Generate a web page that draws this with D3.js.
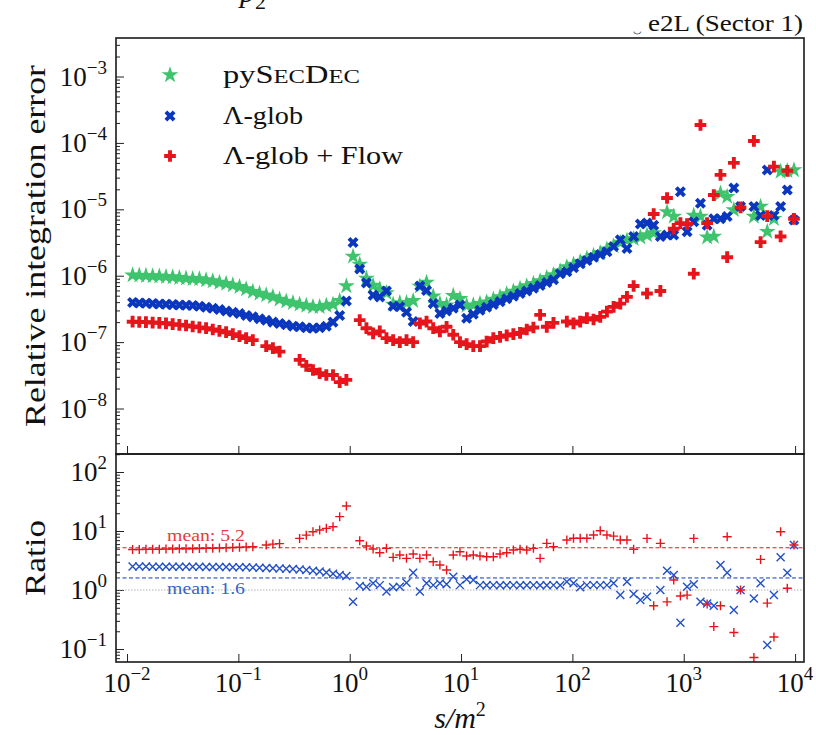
<!DOCTYPE html>
<html>
<head>
<meta charset="utf-8">
<script src="https://cdn.jsdelivr.net/npm/d3@7"></script>
<style>
  body { margin: 0; background: #fff; }
  svg { display: block; }
  text { font-family: "Liberation Serif", "DejaVu Serif", serif; fill: #111; }
</style>
</head>
<body>
<svg id="chart" width="816" height="735"></svg>
<script>
// log10(s/m^2) of every sampled kinematic point
const sExponent = [
  -1.95,-1.89,-1.83,-1.77,-1.71,-1.65,-1.59,-1.53,-1.47,-1.41,
  -1.35,-1.29,-1.23,-1.17,-1.11,-1.05,-0.99,-0.93,-0.87,-0.81,
  -0.75,-0.69,-0.63,-0.57,-0.51,-0.45,-0.39,-0.33,-0.27,-0.21,
  -0.15,-0.09,-0.03,0.03,0.09,0.15,0.21,0.27,0.33,0.39,
  0.45,0.51,0.57,0.63,0.69,0.75,0.81,0.87,0.93,0.99,
  1.05,1.11,1.17,1.23,1.29,1.35,1.41,1.47,1.53,1.59,
  1.65,1.71,1.77,1.83,1.89,1.95,2.01,2.07,2.13,2.19,
  2.25,2.31,2.37,2.43,2.49,2.55,2.61,2.67,2.73,2.79,
  2.85,2.91,2.97,3.03,3.09,3.15,3.21,3.27,3.33,3.39,
  3.45,3.51,3.57,3.63,3.69,3.75,3.81,3.87,3.93,3.99
];

// relative integration errors
const errPySecDec = [
  1.02e-6,1.01e-6,1.0e-6,9.9e-7,9.8e-7,9.65e-7,9.55e-7,9.3e-7,9.1e-7,9.0e-7,
  8.9e-7,8.6e-7,8.3e-7,7.9e-7,7.6e-7,7.2e-7,6.8e-7,6.3e-7,5.75e-7,5.4e-7,
  5.1e-7,4.8e-7,4.4e-7,4.1e-7,3.9e-7,3.7e-7,3.55e-7,3.4e-7,3.4e-7,3.55e-7,
  3.7e-7,4.2e-7,7.0e-7,1.95e-6,1.48e-6,9.1e-7,7.1e-7,6.3e-7,5.5e-7,3.7e-7,
  3.9e-7,3.9e-7,4.2e-7,6.9e-7,7.9e-7,4.9e-7,3.8e-7,3.6e-7,5.0e-7,4.5e-7,
  3.55e-7,3.6e-7,3.8e-7,4.0e-7,4.4e-7,4.8e-7,5.3e-7,5.8e-7,6.4e-7,7.0e-7,
  7.6e-7,8.3e-7,9.3e-7,1.03e-6,1.17e-6,1.35e-6,1.48e-6,1.62e-6,1.82e-6,2.0e-6,
  2.19e-6,2.5e-6,2.8e-6,3.16e-6,3.4e-6,3.6e-6,3.8e-6,4.1e-6,4.4e-6,null,
  9.1e-6,7.8e-6,null,null,8.1e-6,7.8e-6,3.8e-6,3.9e-6,1.74e-5,1.55e-5,
  9.8e-6,null,null,7.8e-6,1.1e-5,4.6e-6,7.2e-6,3.7e-5,3.8e-5,3.9e-5
];
const errGlob = [
  3.94e-7,3.89e-7,3.85e-7,3.8e-7,3.76e-7,3.72e-7,3.67e-7,3.63e-7,3.59e-7,3.55e-7,
  3.47e-7,3.35e-7,3.24e-7,3.09e-7,2.95e-7,2.82e-7,2.69e-7,2.51e-7,2.4e-7,2.24e-7,
  2.14e-7,2.0e-7,1.91e-7,1.82e-7,1.74e-7,1.70e-7,1.64e-7,1.62e-7,1.64e-7,1.74e-7,
  2.0e-7,2.51e-7,4.17e-7,3.16e-6,1.26e-6,7.8e-7,5.1e-7,4.8e-7,5.9e-7,3.47e-7,
  3.4e-7,2.82e-7,2.04e-7,7.0e-7,6.0e-7,3.8e-7,2.7e-7,2.95e-7,3.24e-7,3.63e-7,
  2.29e-7,2.63e-7,3.02e-7,3.35e-7,3.7e-7,4.07e-7,4.5e-7,4.9e-7,5.4e-7,5.9e-7,
  6.5e-7,7.1e-7,7.9e-7,8.7e-7,1.07e-6,1.15e-6,1.32e-6,1.51e-6,1.7e-6,1.9e-6,
  2.09e-6,2.29e-6,2.75e-6,3.47e-6,2.57e-6,3.9e-6,6.0e-6,6.2e-6,5.75e-6,3.9e-6,
  4.1e-6,4.1e-6,1.84e-5,4.6e-6,6.5e-6,1.23e-5,5.75e-6,7.2e-6,7.2e-6,7.8e-6,
  2.09e-5,1.1e-5,null,1.1e-5,8.1e-6,3.9e-5,8.1e-6,1.1e-5,1.95e-5,6.9e-6
];
const errGlobFlow = [
  2.03e-7,2.01e-7,2.0e-7,1.97e-7,1.95e-7,1.92e-7,1.86e-7,1.82e-7,1.78e-7,1.72e-7,
  1.67e-7,1.62e-7,1.55e-7,1.48e-7,1.41e-7,1.32e-7,1.23e-7,1.15e-7,1.07e-7,null,
  8.7e-8,8.1e-8,7.2e-8,null,null,5.4e-8,4.4e-8,3.8e-8,3.4e-8,3.2e-8,
  3.2e-8,2.5e-8,2.7e-8,null,2.14e-7,1.62e-7,1.35e-7,1.45e-7,1.15e-7,1.07e-7,
  1.0e-7,1.07e-7,1.0e-7,1.91e-7,2.04e-7,1.62e-7,1.45e-7,1.7e-7,1.29e-7,1.0e-7,
  9.3e-8,8.7e-8,8.7e-8,1.02e-7,1.15e-7,1.2e-7,1.26e-7,1.32e-7,1.38e-7,1.55e-7,
  1.66e-7,2.57e-7,1.7e-7,1.95e-7,null,2.04e-7,1.91e-7,2.04e-7,2.29e-7,2.19e-7,
  2.4e-7,2.88e-7,3.4e-7,3.8e-7,4.8e-7,7.0e-7,null,5.4e-7,8.5e-6,5.9e-7,
  1.48e-5,5.1e-6,6.2e-6,6.0e-6,1.07e-6,1.86e-4,6.2e-6,1.64e-5,3.3e-5,1.9e-6,
  5.0e-5,1.07e-5,null,1.07e-4,3.2e-6,7.9e-6,4.4e-5,3.9e-6,3.8e-5,7.2e-6
];

// error ratios pySecDec / method
const ratioGlob = [
  2.5,2.5,2.5,2.49,2.49,2.49,2.48,2.48,2.48,2.47,
  2.47,2.46,2.46,2.45,2.45,2.44,2.43,2.42,2.4,2.38,
  2.36,2.34,2.32,2.3,2.26,2.22,2.18,2.12,2.05,1.98,
  1.88,1.8,1.73,0.63,1.17,1.14,1.3,1.21,0.94,1.11,
  1.14,1.33,1.96,0.94,1.3,1.21,1.3,1.25,1.68,1.21,
  1.52,1.48,1.21,1.2,1.21,1.2,1.2,1.21,1.2,1.2,
  1.21,1.2,1.2,1.21,1.2,1.38,1.3,1.11,1.21,1.21,
  1.21,1.21,1.3,0.82,1.38,0.855,0.68,0.77,null,1.0,
  2.12,1.8,0.28,1.14,1.25,0.63,0.59,0.54,2.65,1.96,
  0.46,1.0,null,0.72,1.3,0.117,0.82,3.58,1.96,5.8
];
const ratioGlobFlow = [
  4.85,4.85,4.9,4.9,4.9,4.95,4.95,5.0,5.0,5.0,
  5.05,5.1,5.1,5.15,5.2,5.25,5.3,5.35,5.4,null,
  5.8,6.0,6.1,null,null,7.5,8.5,9.7,10.4,11.1,
  11.8,17.5,26.5,null,6.85,5.57,4.95,4.29,5.08,3.58,
  3.92,3.44,4.07,3.44,3.92,3.02,2.65,2.18,3.92,4.46,
  3.77,3.92,3.77,3.67,3.67,4.07,4.29,4.76,4.9,4.76,
  5.08,3.44,6.18,5.42,null,7.04,7.52,7.52,7.52,8.55,
  10.1,8.55,8.2,7.04,7.04,4.9,null,7.5,0.54,6.18,
  0.63,1.48,0.79,0.82,7.5,null,0.58,0.24,0.54,8.0,
  0.19,1.0,null,0.072,3.3,0.6,0.16,9.7,1.07,5.8
];
const meanGlob = 1.6;
const meanGlobFlow = 5.2;

const xTickExponents = [-2, -1, 0, 1, 2, 3, 4];
const errTickExponents = [-8, -7, -6, -5, -4, -3];
const ratioTickExponents = [-1, 0, 1, 2];

const legendLabels = ["pySecDec", "Λ-glob", "Λ-glob + Flow"];

const cGreen = "#3ec46d", cBlue = "#0b37bf", cRed = "#e6151c";
const cBlueLight = "#2350c8";

const svg = d3.select("#chart");
const L = 116, R = 804, T1 = 38, B1 = 454, T2 = 454, B2 = 662;

const x = d3.scaleLog().domain([Math.pow(10, -2.099), Math.pow(10, 4.08)]).range([L, R]);
const yErr = d3.scaleLog().domain([Math.pow(10, -8.685), Math.pow(10, -2.42)]).range([B1, T1]);
const yRat = d3.scaleLog().domain([Math.pow(10, -1.22), Math.pow(10, 2.305)]).range([B2, T2]);

const sVals = sExponent.map(e => Math.pow(10, e));

const defs = svg.append("defs");
defs.append("clipPath").attr("id", "clipTop").append("rect")
  .attr("x", L).attr("y", T1).attr("width", R - L).attr("height", B1 - T1);
defs.append("clipPath").attr("id", "clipBot").append("rect")
  .attr("x", L).attr("y", T2).attr("width", R - L).attr("height", B2 - T2);

function minorValues(scale) {
  const [a, b] = scale.domain();
  const out = [];
  for (let d = Math.floor(Math.log10(a)); d <= Math.ceil(Math.log10(b)); d++) {
    for (let k = 2; k <= 9; k++) {
      const v = k * Math.pow(10, d);
      if (v >= a && v <= b) out.push(v);
    }
  }
  return out;
}

function powLabel(t, e) {
  t.append("tspan").text("10");
  t.append("tspan").attr("dy", -12).style("font-size", "19px").text(e < 0 ? "−" + (-e) : String(e));
}

function drawYAxis(scale, exps) {
  const g = svg.append("g");
  g.append("g").call(d3.axisLeft(scale).tickValues(minorValues(scale)).tickSize(-4).tickFormat(""))
    .attr("transform", `translate(${L},0)`);
  g.append("g").call(d3.axisLeft(scale).tickValues(exps.map(e => Math.pow(10, e))).tickSize(-8).tickFormat(""))
    .attr("transform", `translate(${L},0)`);
  g.selectAll(".domain").remove();
  g.selectAll(".tick line").attr("stroke", "#222").attr("stroke-width", 1);
  exps.forEach(e => {
    const t = g.append("text").attr("x", 107).attr("y", scale(Math.pow(10, e)) + 9)
      .attr("text-anchor", "end").style("font-size", "27px");
    powLabel(t, e);
  });
}

function drawXTicks(yBase) {
  const g = svg.append("g").attr("transform", `translate(0,${yBase})`)
    .call(d3.axisBottom(x).tickValues(xTickExponents.map(e => Math.pow(10, e))).tickSize(-8).tickFormat(""));
  g.select(".domain").remove();
  g.selectAll(".tick line").attr("stroke", "#222").attr("stroke-width", 1);
}

// ticks on both panels
drawYAxis(yErr, errTickExponents);
drawYAxis(yRat, ratioTickExponents);
drawXTicks(B1);
drawXTicks(B2);

// x tick labels under the ratio panel
xTickExponents.forEach(e => {
  const t = svg.append("text").attr("x", x(Math.pow(10, e))).attr("y", 692)
    .attr("text-anchor", "middle").style("font-size", "27px");
  powLabel(t, e);
});

// marker shapes
const starPath = d3.symbol().type(d3.symbolStar).size(88)();
const plusPath = d3.symbol().type(d3.symbolCross).size(76)();
const xPath = plusPath;

function pts(vals) {
  return sVals.map((s, i) => ({ s, v: vals[i] })).filter(d => d.v != null);
}

const upperG = svg.append("g").attr("clip-path", "url(#clipTop)");
upperG.selectAll("path.psd").data(pts(errPySecDec)).join("path").attr("class", "psd")
  .attr("d", starPath).attr("fill", cGreen)
  .attr("transform", d => `translate(${x(d.s)},${yErr(d.v)})`);
upperG.selectAll("path.glob").data(pts(errGlob)).join("path").attr("class", "glob")
  .attr("d", xPath).attr("fill", cBlue)
  .attr("transform", d => `translate(${x(d.s)},${yErr(d.v)}) rotate(45)`);
upperG.selectAll("path.flow").data(pts(errGlobFlow)).join("path").attr("class", "flow")
  .attr("d", plusPath).attr("fill", cRed)
  .attr("transform", d => `translate(${x(d.s)},${yErr(d.v)})`);

// ratio panel
const lowerG = svg.append("g").attr("clip-path", "url(#clipBot)");
const [x0, x1] = x.domain();
const hline = d3.line().x(d => x(d[0])).y(d => yRat(d[1]));
lowerG.append("path").attr("d", hline([[x0, 1], [x1, 1]]))
  .attr("stroke", "#b0b0b0").attr("stroke-width", 1).attr("stroke-dasharray", "1.5,1.5").attr("fill", "none");
lowerG.append("path").attr("d", hline([[x0, meanGlobFlow], [x1, meanGlobFlow]]))
  .attr("stroke", cRed).attr("stroke-width", 1).attr("stroke-dasharray", "4,2.5").attr("fill", "none");
lowerG.append("path").attr("d", hline([[x0, meanGlob], [x1, meanGlob]]))
  .attr("stroke", cBlue).attr("stroke-width", 1).attr("stroke-dasharray", "4,2.5").attr("fill", "none");

lowerG.selectAll("path.rglob").data(pts(ratioGlob)).join("path").attr("class", "rglob")
  .attr("d", "M-4,-4L4,4M-4,4L4,-4").attr("stroke", cBlueLight).attr("stroke-width", 1.4).attr("fill", "none")
  .attr("transform", d => `translate(${x(d.s)},${yRat(d.v)})`);
lowerG.selectAll("path.rflow").data(pts(ratioGlobFlow)).join("path").attr("class", "rflow")
  .attr("d", "M-4.5,0H4.5M0,-4.5V4.5").attr("stroke", cRed).attr("stroke-width", 1.4).attr("fill", "none")
  .attr("transform", d => `translate(${x(d.s)},${yRat(d.v)})`);

svg.append("text").attr("x", 167).attr("y", 541).style("font-size", "17px").style("fill", "#e63b3b")
  .attr("textLength", 78).attr("lengthAdjust", "spacingAndGlyphs")
  .text("mean:  " + meanGlobFlow.toFixed(1));
svg.append("text").attr("x", 167).attr("y", 594).style("font-size", "17px").style("fill", "#3563cc")
  .attr("textLength", 78).attr("lengthAdjust", "spacingAndGlyphs")
  .text("mean:  " + meanGlob.toFixed(1));

// frames
[[T1, B1], [T2, B2]].forEach(([t, b]) => {
  svg.append("rect").attr("x", L).attr("y", t).attr("width", R - L).attr("height", b - t)
    .attr("fill", "none").attr("stroke", "#1a1a1a").attr("stroke-width", 1.6);
});

// legend
const legY = [75, 116, 156];
const legWidth = [137, 80, 180];
const legShapes = [
  { d: starPath, c: cGreen, rot: 0 },
  { d: xPath, c: cBlue, rot: 45 },
  { d: plusPath, c: cRed, rot: 0 }
];
legShapes.forEach((m, i) => {
  svg.append("path").attr("d", m.d).attr("fill", m.c)
    .attr("transform", `translate(170,${legY[i]}) rotate(${m.rot})`);
});
const lt0 = svg.append("text").attr("x", 223).attr("y", legY[0] + 8).style("font-size", "25px")
  .attr("textLength", legWidth[0]).attr("lengthAdjust", "spacingAndGlyphs");
lt0.append("tspan").text("py");
lt0.append("tspan").text("S");
lt0.append("tspan").style("font-size", "19px").text("EC");
lt0.append("tspan").text("D");
lt0.append("tspan").style("font-size", "19px").text("EC");
legendLabels.slice(1).forEach((lab, i) => {
  svg.append("text").attr("x", 223).attr("y", legY[i + 1] + 8).style("font-size", "25px")
    .attr("textLength", legWidth[i + 1]).attr("lengthAdjust", "spacingAndGlyphs").text(lab);
});

// axis titles
svg.append("text").attr("transform", `translate(45,${(T1 + B1) / 2}) rotate(-90)`)
  .attr("text-anchor", "middle").style("font-size", "29px")
  .attr("textLength", 362).attr("lengthAdjust", "spacingAndGlyphs").text("Relative integration error");
svg.append("text").attr("transform", `translate(45,${(T2 + B2) / 2}) rotate(-90)`)
  .attr("text-anchor", "middle").style("font-size", "29px")
  .attr("textLength", 76).attr("lengthAdjust", "spacingAndGlyphs").text("Ratio");
const xl = svg.append("text").attr("x", (L + R) / 2).attr("y", 728).attr("text-anchor", "middle")
  .style("font-size", "30px").style("font-style", "italic");
xl.append("tspan").text("s/m");
xl.append("tspan").attr("dy", -12).style("font-size", "20px").style("font-style", "normal").text("2");

// title lines (upper line runs past the top edge)
const tt = svg.append("text").attr("x", 240).attr("y", 2).style("font-size", "30px").style("font-style", "italic");
tt.append("tspan").text("p");
tt.append("tspan").attr("dy", 7).style("font-size", "22px").style("font-style", "normal").text("2");
svg.append("text").attr("x", 803).attr("y", 31).attr("text-anchor", "end").style("font-size", "23px")
  .attr("textLength", 155).attr("lengthAdjust", "spacingAndGlyphs")
  .text("e2L (Sector 1)");
svg.append("text").attr("x", 637).attr("y", 31).attr("text-anchor", "middle").style("font-size", "14px")
  .text("‿");
</script>
</body>
</html>
